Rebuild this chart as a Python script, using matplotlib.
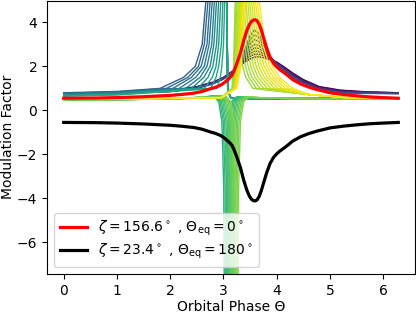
import matplotlib
matplotlib.use("Agg")
import matplotlib.pyplot as plt

# ---------------- data ----------------
red_theta = [0.0, 0.6, 1.0, 1.5, 2.0, 2.2, 2.44, 2.6, 2.75, 2.85, 2.94, 3.0, 3.06, 3.11, 3.16,
             3.2, 3.25, 3.32, 3.38, 3.44, 3.49, 3.53, 3.57, 3.6, 3.63, 3.67, 3.71, 3.75, 3.81,
             3.875, 3.94, 4.0, 4.06, 4.125, 4.2, 4.3, 4.45, 4.6, 4.75, 5.0, 5.25, 5.5, 5.75,
             6.0, 6.283]
red_vals = [0.55, 0.56, 0.58, 0.62, 0.68, 0.72, 0.78, 0.86, 0.98, 1.05, 1.14, 1.23, 1.35, 1.46, 1.59,
            1.8, 2.12, 2.62, 3.18, 3.64, 3.92, 4.06, 4.12, 4.12, 4.08, 3.92, 3.66, 3.33, 2.85,
            2.42, 2.14, 1.98, 1.85, 1.74, 1.6, 1.4, 1.2, 1.06, 0.95, 0.8, 0.72, 0.66, 0.61,
            0.58, 0.55]
black_theta = red_theta
black_vals = [-0.55, -0.56, -0.58, -0.62, -0.68, -0.72, -0.78, -0.86, -0.98, -1.05, -1.14, -1.23, -1.35, -1.46, -1.59,
              -1.8, -2.12, -2.62, -3.18, -3.64, -3.92, -4.06, -4.12, -4.12, -4.08, -3.92, -3.66, -3.33, -2.85,
              -2.42, -2.14, -1.98, -1.85, -1.74, -1.6, -1.4, -1.2, -1.06, -0.95, -0.8, -0.72, -0.66, -0.61,
              -0.58, -0.55]
red_label = r"$\zeta=156.6^\circ$ , $\Theta_{\rm eq}=0^\circ$"
black_label = r"$\zeta=23.4^\circ$ , $\Theta_{\rm eq}=180^\circ$"

# --- family of thin curves; colour = position on viridis ---
# purple / blue: broad humps right of pi
pb_theta = [0.0, 1.0, 2.0, 2.5, 2.8, 3.0, 3.1, 3.2, 3.3, 3.4, 3.5, 3.58, 3.66, 3.75,
            3.85, 4.0, 4.15, 4.3, 4.5, 4.8, 5.2, 5.7, 6.283]
pb_colors = [0.00, 0.035, 0.07, 0.105, 0.14, 0.175, 0.21, 0.245]
pb_vals = [
    [0.80,0.81,0.90,1.08,1.28,1.50,1.66,1.84,2.02,2.20,2.34,2.42,2.44,2.40,2.32,2.20,1.96,1.70,1.40,1.08,0.92,0.84,0.80],
    [0.80,0.80,0.89,1.07,1.27,1.49,1.65,1.84,2.04,2.26,2.46,2.55,2.56,2.49,2.38,2.18,1.93,1.67,1.37,1.06,0.90,0.83,0.80],
    [0.79,0.80,0.89,1.06,1.26,1.48,1.64,1.83,2.05,2.32,2.58,2.69,2.68,2.58,2.44,2.16,1.90,1.64,1.34,1.04,0.88,0.82,0.79],
    [0.78,0.79,0.88,1.05,1.25,1.47,1.63,1.83,2.07,2.39,2.71,2.84,2.82,2.67,2.48,2.14,1.88,1.61,1.31,1.02,0.86,0.81,0.78],
    [0.78,0.79,0.87,1.04,1.24,1.46,1.62,1.82,2.09,2.46,2.85,3.00,2.96,2.77,2.52,2.12,1.86,1.58,1.28,1.00,0.84,0.80,0.78],
    [0.77,0.78,0.86,1.02,1.22,1.44,1.60,1.82,2.12,2.55,3.02,3.22,3.14,2.88,2.52,2.10,1.84,1.55,1.26,0.98,0.82,0.79,0.77],
    [0.76,0.77,0.86,1.01,1.21,1.43,1.59,1.82,2.15,2.64,3.20,3.44,3.32,2.98,2.52,2.08,1.82,1.52,1.24,0.96,0.81,0.78,0.76],
    [0.76,0.77,0.85,1.00,1.20,1.42,1.58,1.82,2.18,2.74,3.40,3.66,3.50,3.08,2.52,2.06,1.80,1.50,1.22,0.94,0.80,0.77,0.76],
]

# teal: spikes rising left of pi, dropping sharply near 3.06
teal_colors = [0.30, 0.333, 0.367, 0.40, 0.433, 0.467, 0.50, 0.533, 0.567, 0.60]
teal_theta = [
    [0.0, 1.0, 1.81, 2.25, 2.47, 2.60, 2.67, 3.035, 3.08, 3.14, 3.3, 4.0, 6.283],
    [0.0, 1.0, 1.93, 2.33, 2.53, 2.64, 2.71, 3.035, 3.08, 3.14, 3.3, 4.0, 6.283],
    [0.0, 1.0, 2.05, 2.40, 2.58, 2.69, 2.75, 3.035, 3.08, 3.14, 3.3, 4.0, 6.283],
    [0.0, 1.0, 2.17, 2.48, 2.64, 2.73, 2.79, 3.035, 3.08, 3.14, 3.3, 4.0, 6.283],
    [0.0, 1.0, 2.29, 2.56, 2.69, 2.78, 2.83, 3.035, 3.08, 3.14, 3.3, 4.0, 6.283],
    [0.0, 1.0, 2.40, 2.63, 2.75, 2.82, 2.87, 3.035, 3.08, 3.14, 3.3, 4.0, 6.283],
    [0.0, 1.0, 2.52, 2.71, 2.80, 2.87, 2.91, 3.035, 3.08, 3.14, 3.3, 4.0, 6.283],
    [0.0, 1.0, 2.64, 2.79, 2.86, 2.91, 2.95, 3.035, 3.08, 3.14, 3.3, 4.0, 6.283],
    [0.0, 1.0, 2.76, 2.86, 2.91, 2.96, 2.99, 3.035, 3.08, 3.14, 3.3, 4.0, 6.283],
    [0.0, 1.0, 2.88, 2.94, 2.97, 3.00, 3.025, 3.035, 3.08, 3.14, 3.3, 4.0, 6.283],
]
teal_vals = [
    [0.80, 0.86, 1.0, 1.5, 2.0, 3.0, 5.0, 12, 0.9, 0.56, 0.50, 0.53, 0.55],
    [0.78, 0.84, 1.0, 1.5, 2.0, 3.0, 5.0, 12, 0.9, 0.56, 0.50, 0.53, 0.55],
    [0.77, 0.82, 1.0, 1.5, 2.0, 3.0, 5.0, 12, 0.9, 0.56, 0.50, 0.53, 0.55],
    [0.75, 0.81, 1.0, 1.5, 2.0, 3.0, 5.0, 12, 0.9, 0.56, 0.50, 0.53, 0.55],
    [0.73, 0.79, 1.0, 1.5, 2.0, 3.0, 5.0, 12, 0.9, 0.56, 0.50, 0.53, 0.55],
    [0.72, 0.78, 1.0, 1.5, 2.0, 3.0, 5.0, 12, 0.9, 0.56, 0.50, 0.53, 0.55],
    [0.70, 0.76, 1.0, 1.5, 2.0, 3.0, 5.0, 12, 0.9, 0.56, 0.50, 0.53, 0.55],
    [0.68, 0.74, 1.0, 1.5, 2.0, 3.0, 5.0, 12, 0.9, 0.56, 0.50, 0.53, 0.55],
    [0.66, 0.72, 1.0, 1.5, 2.0, 3.0, 5.0, 12, 0.9, 0.56, 0.50, 0.53, 0.55],
    [0.64, 0.70, 1.0, 1.5, 2.0, 3.0, 5.0, 12, 0.9, 0.56, 0.50, 0.53, 0.55],
]

# green: negative spikes around pi (spike centres)
green_colors = [0.64, 0.66, 0.68, 0.70, 0.72, 0.74, 0.76, 0.78, 0.80, 0.82]
green_centres = [3.03, 3.056, 3.081, 3.107, 3.132, 3.158, 3.183, 3.209, 3.234, 3.26]
green_offsets = [-3.03, -2.03, -1.03, -0.43, -0.22, -0.12, -0.06, -0.025, 0.0,
                 0.025, 0.06, 0.12, 0.22, 0.42, 1.0, 3.023]
green_vals = [0.48, 0.49, 0.53, 0.60, 0.66, 0.40, -0.5, -3.5, -15,
              -3.5, -0.5, 0.40, 0.62, 0.58, 0.54, 0.52]

# yellow: positive spikes right of pi
yel_colors = [0.84, 0.855, 0.87, 0.884, 0.898, 0.913, 0.927, 0.942, 0.956, 0.971, 0.985, 1.00]
yel_theta = [
    [0.0, 1.0, 2.0, 2.6, 2.95, 3.160, 3.190, 3.220, 3.250, 3.280, 3.310, 3.360, 3.420, 3.550, 4.6, 5.3, 6.283],
    [0.0, 1.0, 2.0, 2.6, 2.95, 3.168, 3.203, 3.238, 3.273, 3.315, 3.353, 3.411, 3.477, 3.618, 4.6, 5.3, 6.283],
    [0.0, 1.0, 2.0, 2.6, 2.95, 3.176, 3.215, 3.256, 3.295, 3.351, 3.395, 3.462, 3.535, 3.686, 4.6, 5.3, 6.283],
    [0.0, 1.0, 2.0, 2.6, 2.95, 3.185, 3.228, 3.275, 3.318, 3.386, 3.438, 3.513, 3.592, 3.755, 4.6, 5.3, 6.283],
    [0.0, 1.0, 2.0, 2.6, 2.95, 3.193, 3.241, 3.293, 3.341, 3.422, 3.481, 3.564, 3.649, 3.823, 4.6, 5.3, 6.283],
    [0.0, 1.0, 2.0, 2.6, 2.95, 3.201, 3.254, 3.311, 3.364, 3.457, 3.524, 3.615, 3.706, 3.891, 4.6, 5.3, 6.283],
    [0.0, 1.0, 2.0, 2.6, 2.95, 3.209, 3.266, 3.329, 3.386, 3.493, 3.566, 3.665, 3.764, 3.959, 4.6, 5.3, 6.283],
    [0.0, 1.0, 2.0, 2.6, 2.95, 3.217, 3.279, 3.347, 3.409, 3.528, 3.609, 3.716, 3.821, 4.027, 4.6, 5.3, 6.283],
    [0.0, 1.0, 2.0, 2.6, 2.95, 3.225, 3.292, 3.365, 3.432, 3.564, 3.652, 3.767, 3.878, 4.095, 4.6, 5.3, 6.283],
    [0.0, 1.0, 2.0, 2.6, 2.95, 3.234, 3.305, 3.384, 3.455, 3.599, 3.695, 3.818, 3.935, 4.164, 4.6, 5.3, 6.283],
    [0.0, 1.0, 2.0, 2.6, 2.95, 3.242, 3.317, 3.402, 3.477, 3.635, 3.737, 3.869, 3.993, 4.232, 4.6, 5.3, 6.283],
    [0.0, 1.0, 2.0, 2.6, 2.95, 3.250, 3.330, 3.420, 3.500, 3.670, 3.780, 3.920, 4.050, 4.300, 4.6, 5.3, 6.283],
]
yel_vals = [0.50, 0.51, 0.55, 0.58, 0.56, 1.0, 2.0, 5.0, 12, 5.0, 3.0, 2.0, 1.5, 1.0, 0.72, 0.58, 0.52]

x_ticks = [0, 1, 2, 3, 4, 5, 6]
y_ticks = [-6, -4, -2, 0, 2, 4]

# ---------------- figure ----------------
fig = plt.figure(figsize=(4.16, 3.14), dpi=100)
ax = fig.add_axes([0.113, 0.1274, 0.8846, 0.8710])
cmap = plt.get_cmap("viridis")
lw_f = 1.0
for c, v in zip(pb_colors, pb_vals):
    ax.plot(pb_theta, v, color=cmap(c), lw=lw_f)
for c, th, v in zip(teal_colors, teal_theta, teal_vals):
    ax.plot(th, v, color=cmap(c), lw=lw_f)
for c, ctr in zip(green_colors, green_centres):
    ax.plot([ctr + o for o in green_offsets], green_vals, color=cmap(c), lw=lw_f)
for c, th in zip(yel_colors, yel_theta):
    ax.plot(th, yel_vals, color=cmap(c), lw=lw_f)

ax.plot(red_theta, red_vals, color="red", lw=2.3, label=red_label)
ax.plot(black_theta, black_vals, color="black", lw=2.3, label=black_label)

ax.set_xlim(-0.314, 6.597)
ax.set_ylim(-7.45, 5)
ax.set_xticks(x_ticks)
ax.set_yticks(y_ticks)
ax.set_xlabel("Orbital Phase Θ", labelpad=1.5)
ax.set_ylabel("Modulation Factor", labelpad=1.5)
ax.legend(loc="lower left", labelspacing=0.3)
fig.savefig("out.png", dpi=100)
